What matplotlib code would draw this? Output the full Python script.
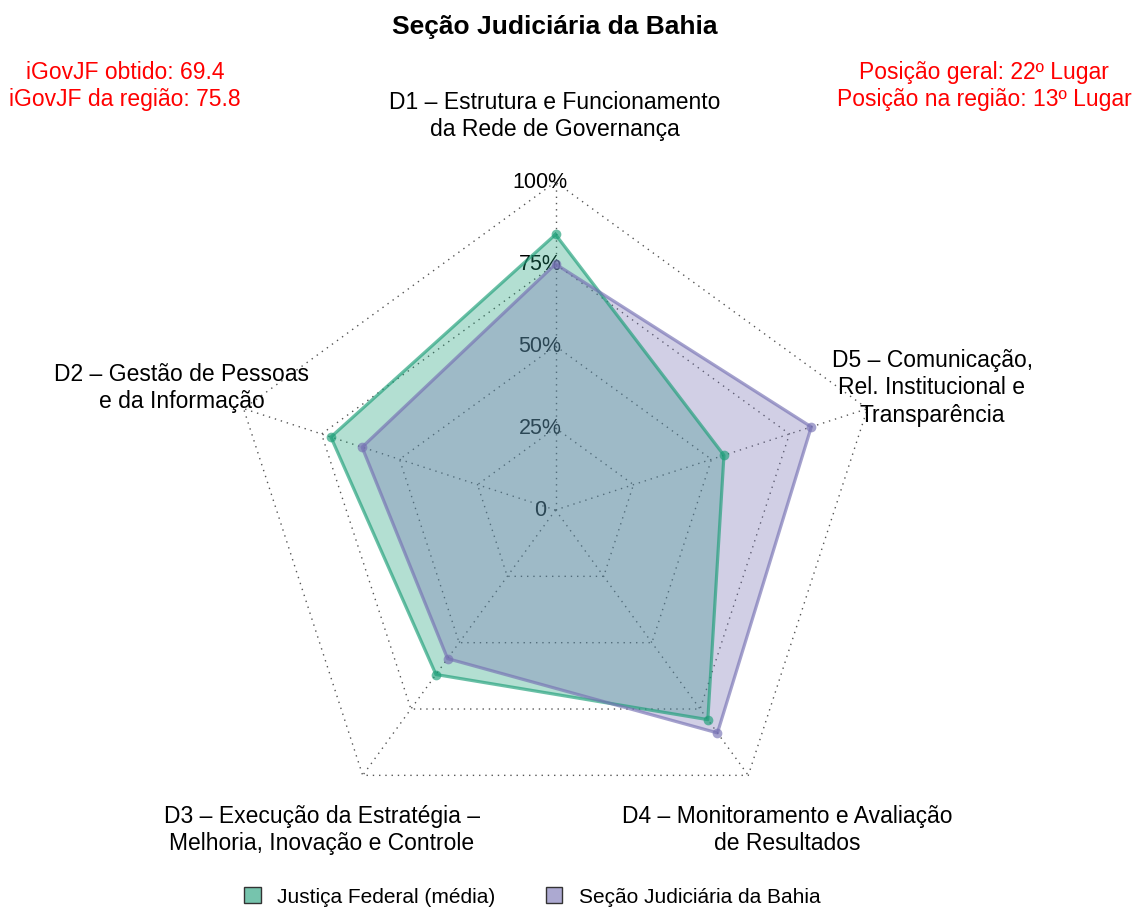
import numpy as np
import matplotlib.pyplot as plt
from matplotlib.patches import Patch
from matplotlib.colors import to_rgba

plt.rcParams['font.family'] = ['Liberation Sans', 'DejaVu Sans']

# dados
dimensoes = [
  'D1 – Estrutura e Funcionamento\nda Rede de Governança',
  'D2 – Gestão de Pessoas\ne da Informação',
  'D3 – Execução da Estratégia –\nMelhoria, Inovação e Controle',
  'D4 – Monitoramento e Avaliação\nde Resultados',
  'D5 – Comunicação,\nRel. Institucional e\nTransparência',
]
justica_federal = [84, 72, 62, 79, 54]
secao_bahia = [75, 62, 56, 84, 82]
niveis = [0, 25, 50, 75, 100]
niveis_labels = ['0', '25%', '50%', '75%', '100%']
series_nomes = ['Justiça Federal (média)', 'Seção Judiciária da Bahia']
cores = ['#1B9E77', '#7570B3']

titulo = 'Seção Judiciária da Bahia'
info_esq = 'iGovJF obtido: 69.4\niGovJF da região: 75.8'
info_dir = 'Posição geral: 22º Lugar\nPosição na região: 13º Lugar'

W, H = 1135, 910
cx, cy, R = 555.5, 510, 328

fig = plt.figure(figsize=(W / 100, H / 100), dpi=100)
ax = fig.add_axes([0, 0, 1, 1])
ax.set_xlim(-cx / R, (W - cx) / R)
ax.set_ylim(-(H - cy) / R, cy / R)
ax.axis('off')

n = len(dimensoes)
ang = np.deg2rad(90 + 360 / n * np.arange(n))


def to_xy(vals):
  r = np.asarray(vals) / 100
  x = r * np.cos(ang)
  y = r * np.sin(ang)
  return np.append(x, x[0]), np.append(y, y[0])


# grade
for nv in niveis[1:]:
  x, y = to_xy([nv] * n)
  ax.plot(x, y, color='#555555', lw=1, ls=(0, (1, 3.5)), zorder=1)
for a in ang:
  ax.plot([0, np.cos(a)], [0, np.sin(a)], color='#555555', lw=1, ls=(0, (1, 3.5)), zorder=1)

for nv, lab in zip(niveis, niveis_labels):
  ax.text(-0.047, nv / 100, lab, ha='center', va='center', fontsize=15.5, zorder=2)

# series
for vals, cor in zip([justica_federal, secao_bahia], cores):
  x, y = to_xy(vals)
  ax.fill(x, y, color=to_rgba(cor, 0.33), lw=0, zorder=3)
  ax.plot(x, y, color=to_rgba(cor, 0.65), lw=2.3, zorder=4)
  ax.plot(x[:-1], y[:-1], 'o', color=to_rgba(cor, 0.65), ms=7, mew=0, zorder=5)

# rotulos das dimensoes (posicoes em pixels)
rot_pos = [(555, 116), (182, 388), (322, 830), (787, 830), (932, 388)]
for lab, (px, py) in zip(dimensoes, rot_pos):
  ax.text((px - cx) / R, (cy - py) / R, lab, ha='center', va='center',
          fontsize=16.5, linespacing=1.25)

fig.text(0.489, 1 - 27 / H, titulo, ha='center', va='center', fontsize=19, fontweight='bold')
fig.text(125 / W, 1 - 86 / H, info_esq, ha='center', va='center', fontsize=16.5,
         color='red', linespacing=1.2)
fig.text(984 / W, 1 - 86 / H, info_dir, ha='center', va='center', fontsize=16.5,
         color='red', linespacing=1.2)

handles = [Patch(facecolor=to_rgba(c, 0.6), edgecolor='#333333') for c in cores]
fig.legend(handles, series_nomes, loc='center', bbox_to_anchor=(0.469, 1 - 897 / H),
           ncol=2, frameon=False, fontsize=15, handlelength=0.8, handleheight=0.8,
           columnspacing=2.4, handletextpad=0.8)

fig.savefig('out.png', dpi=100)
